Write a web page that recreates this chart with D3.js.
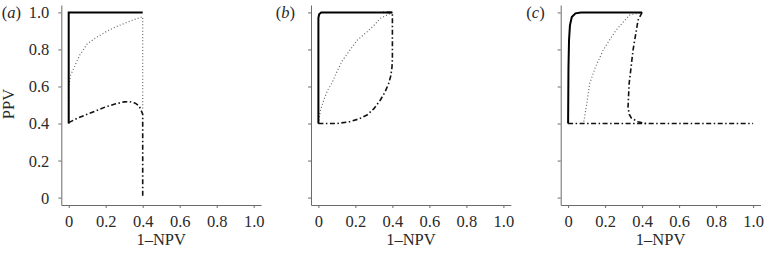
<!DOCTYPE html>
<html>
<head>
<meta charset="utf-8">
<script src="https://cdn.jsdelivr.net/npm/d3@7"></script>
<style>
  body { margin: 0; background: #fff; }
  svg { display: block; font-family: "Liberation Serif", "DejaVu Serif", serif; }
</style>
</head>
<body>
<svg id="chart" width="766" height="256"></svg>
<script>

// tick values shared by all panels
var xTicks = [ 0, 0.2, 0.4, 0.6, 0.8, 1.0 ];
var yTicks = [ 0, 0.2, 0.4, 0.6, 0.8, 1.0 ];
var panelNames = [ "a", "b", "c" ];

// panel (a)
var solidA = [ [0,0.4],[0,1.0],[0.4,1.0] ];
var dottedA = [ [0,0.4],[0,0.6],[0.01,0.66],[0.03,0.705],[0.06,0.77],[0.1,0.83],[0.15,0.865],
  [0.2,0.895],[0.25,0.92],[0.3,0.94],[0.35,0.96],[0.4,0.976],[0.4,0.48] ];
var dashdotA = [ [0,0.405],[0.05,0.43],[0.1,0.45],[0.15,0.47],[0.2,0.49],[0.25,0.505],[0.3,0.517],
  [0.33,0.518],[0.36,0.51],[0.38,0.495],[0.39,0.475],[0.4,0.45],[0.4,0] ];

// panel (b)
var solidB = [ [0,0.4],[0,0.97],[0.004,0.99],[0.015,1.0],[0.4,1.0] ];
var dottedB = [ [0,0.4],[0.011,0.47],[0.03,0.53],[0.05,0.58],[0.074,0.62],[0.1,0.68],[0.13,0.74],
  [0.173,0.8],[0.21,0.85],[0.263,0.895],[0.3,0.93],[0.335,0.968],[0.4,1.0] ];
var dashdotB = [ [0,0.4],[0.1,0.4],[0.17,0.41],[0.22,0.425],[0.263,0.446],[0.3,0.48],[0.335,0.527],
  [0.36,0.57],[0.38,0.617],[0.392,0.66],[0.398,0.707],[0.4,0.75],[0.4,1.0],[0.35,1.0] ];

// panel (c)
var solidC = [ [0,0.4],[0.002,0.7],[0.005,0.85],[0.01,0.93],[0.02,0.975],[0.04,0.995],[0.07,1.0],[0.4,1.0] ];
var dottedC = [ [0.085,0.41],[0.09,0.44],[0.1,0.5],[0.117,0.617],[0.15,0.71],[0.19,0.797],
  [0.23,0.86],[0.26,0.905],[0.3,0.95],[0.333,0.986],[0.4,1.0] ];
var dashdotC = [ [0.4,1.0],[0.378,0.958],[0.365,0.88],[0.351,0.797],[0.34,0.7],[0.33,0.617],
  [0.324,0.49],[0.33,0.45],[0.343,0.428],[0.378,0.41],[0.42,0.4],[1.0,0.4] ];
var baseC = [ [0,0.4],[0.42,0.4] ];

var panels = [
  { solid: solidA, dotted: dottedA, dashdot: [ dashdotA ] },
  { solid: solidB, dotted: dottedB, dashdot: [ dashdotB ] },
  { solid: solidC, dotted: dottedC, dashdot: [ dashdotC, baseC ] }
];

var svg = d3.select( "#chart" );
var axisColor = "#6a6a6a";
var textColor = "#2a2a2a";
var fontSize = "16.5px";
var fmt = d => d === 0 ? "0" : d.toFixed( 1 );

panels.forEach( function( p, i ) {

  var left = 61.3 + i * 249.7;

  var x = d3.scaleLinear()
    .domain( [ -0.04, 1.04 ] )
    .range( [ left, left + 199.8 ] );

  var y = d3.scaleLinear()
    .domain( [ -0.04, 1.04 ] )
    .range( [ 205, 5 ] );

  var g = svg.append( "g" );

  // x axis
  var xAxis = g.append( "g" )
    .attr( "transform", "translate(0,205)" )
    .call( d3.axisBottom( x ).tickValues( xTicks ).tickFormat( fmt ).tickSize( 3 ).tickSizeOuter( 0 ) );

  xAxis.select( ".domain" ).attr( "stroke", axisColor );
  xAxis.selectAll( ".tick line" ).attr( "stroke", axisColor );
  xAxis.selectAll( ".tick text" )
    .attr( "fill", textColor )
    .attr( "dy", 0 )
    .attr( "y", 21.5 )
    .style( "font-size", fontSize )
    .style( "font-family", "'Liberation Serif', serif" );

  // y axis
  var yAxis = g.append( "g" )
    .attr( "transform", "translate(" + left + ",0)" )
    .call( d3.axisLeft( y ).tickValues( yTicks ).tickFormat( i === 0 ? fmt : "" ).tickSize( 3 ).tickSizeOuter( 0 ) );

  yAxis.select( ".domain" ).attr( "stroke", axisColor );
  yAxis.selectAll( ".tick line" ).attr( "stroke", axisColor );
  yAxis.selectAll( ".tick text" )
    .attr( "fill", textColor )
    .attr( "x", -12 )
    .attr( "dy", "0.33em" )
    .style( "font-size", fontSize )
    .style( "font-family", "'Liberation Serif', serif" );

  g.append( "text" )
    .attr( "x", left + 99.9 )
    .attr( "y", 244.5 )
    .attr( "text-anchor", "middle" )
    .attr( "fill", textColor )
    .style( "font-size", fontSize )
    .text( "1\u2013NPV" );

  // panel label
  var lab = g.append( "text" )
    .attr( "x", i === 0 ? 21 : left - 16 )
    .attr( "y", 18 )
    .attr( "text-anchor", "end" )
    .attr( "fill", textColor )
    .style( "font-size", fontSize );
  lab.append( "tspan" ).text( "(" );
  lab.append( "tspan" ).style( "font-style", "italic" ).text( panelNames[ i ] );
  lab.append( "tspan" ).text( ")" );

  var line = d3.line()
    .x( d => x( d[ 0 ] ) )
    .y( d => y( d[ 1 ] ) );

  g.append( "path" )
    .datum( p.dotted )
    .attr( "d", line )
    .attr( "fill", "none" )
    .attr( "stroke", "#666" )
    .attr( "stroke-width", 1.2 )
    .attr( "stroke-dasharray", "1,2.2" );

  p.dashdot.forEach( function( seg ) {
    g.append( "path" )
      .datum( seg )
      .attr( "d", line )
      .attr( "fill", "none" )
      .attr( "stroke", "#111" )
      .attr( "stroke-width", 1.6 )
      .attr( "stroke-dasharray", "5,2.5,1.5,2.5" );
  } );

  g.append( "path" )
    .datum( p.solid )
    .attr( "d", line )
    .attr( "fill", "none" )
    .attr( "stroke", "#000" )
    .attr( "stroke-width", 2 );

} );

// y axis title
svg.append( "text" )
  .attr( "transform", "translate(14,104) rotate(-90)" )
  .attr( "text-anchor", "middle" )
  .attr( "fill", textColor )
  .style( "font-size", fontSize )
  .text( "PPV" );

</script>
</body>
</html>
